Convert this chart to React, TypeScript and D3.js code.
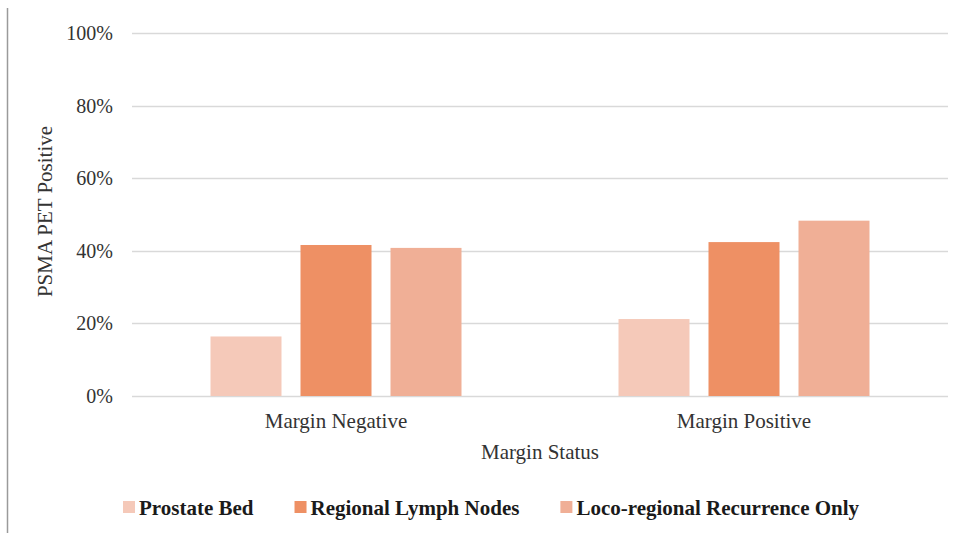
import React, { useEffect, useRef } from "react";
import * as d3 from "d3";

const categories = ["Margin Negative", "Margin Positive"];
const seriesNames = ["Prostate Bed", "Regional Lymph Nodes", "Loco-regional Recurrence Only"];
const prostateBed = [0.164, 0.212];
const regionalLymphNodes = [0.416, 0.424];
const locoRegionalOnly = [0.408, 0.483];
const seriesColors = ["#F5C9B9", "#EE9064", "#F0AF96"];
const yTicks = [0, 0.2, 0.4, 0.6, 0.8, 1.0];

const W = 957;
const H = 533;

export default function App() {
  const ref = useRef<SVGSVGElement | null>(null);

  useEffect(() => {
    const svg = d3.select(ref.current);
    svg.selectAll("*").remove();
    const font = "'Liberation Serif', 'Times New Roman', serif";
    const seriesValues = [prostateBed, regionalLymphNodes, locoRegionalOnly];

    const left = 132, right = 948, top = 33, bottom = 396;
    const y = d3.scaleLinear().domain([0, 1]).range([bottom, top]);
    const x0 = d3.scaleBand<string>().domain(categories).range([left, right]).padding(0);
    const groupPad = (x0.bandwidth() - 251) / 2;
    const x1 = d3
      .scaleBand<string>()
      .domain(seriesNames)
      .range([groupPad, x0.bandwidth() - groupPad])
      .paddingInner(19 / 90)
      .paddingOuter(0);

    // left border line
    svg.append("line").attr("x1", 7.5).attr("x2", 7.5).attr("y1", 8).attr("y2", H)
      .attr("stroke", "#9a9a9a").attr("stroke-width", 1.5);

    // gridlines
    svg.append("g").selectAll("line").data(yTicks).join("line")
      .attr("x1", left).attr("x2", right)
      .attr("y1", (d) => Math.round(y(d)) + 0.5).attr("y2", (d) => Math.round(y(d)) + 0.5)
      .attr("stroke", "#d9d9d9").attr("stroke-width", 1.3);

    // tick labels
    svg.append("g").selectAll("text").data(yTicks).join("text")
      .attr("x", 113).attr("y", (d) => y(d) + 7)
      .attr("text-anchor", "end")
      .attr("font-family", font).attr("font-size", 20).attr("fill", "#333")
      .text((d) => d3.format(".0%")(d));

    // bars
    const groups = svg.append("g").selectAll("g").data(categories).join("g")
      .attr("transform", (c) => `translate(${x0(c)},0)`);
    groups.selectAll("rect")
      .data((c, ci) => seriesNames.map((s, si) => ({ s, v: seriesValues[si][ci], color: seriesColors[si] })))
      .join("rect")
      .attr("x", (d) => x1(d.s)!)
      .attr("width", x1.bandwidth())
      .attr("y", (d) => y(d.v))
      .attr("height", (d) => y(0) - y(d.v))
      .attr("fill", (d) => d.color);

    // category labels
    svg.append("g").selectAll("text").data(categories).join("text")
      .attr("x", (c) => x0(c)! + x0.bandwidth() / 2).attr("y", 428)
      .attr("text-anchor", "middle")
      .attr("font-family", font).attr("font-size", 21).attr("fill", "#333")
      .text((c) => c);

    // axis titles
    svg.append("text").attr("x", (left + right) / 2).attr("y", 459)
      .attr("text-anchor", "middle").attr("font-family", font).attr("font-size", 21).attr("fill", "#333")
      .text("Margin Status");
    svg.append("text").attr("transform", `translate(52,${(top + bottom) / 2 - 3}) rotate(-90)`)
      .attr("text-anchor", "middle").attr("font-family", font).attr("font-size", 21).attr("fill", "#333")
      .text("PSMA PET Positive");

    // legend
    const lg = svg.append("g");
    let cx = 123;
    seriesNames.forEach((s, i) => {
      lg.append("rect").attr("x", cx).attr("y", 501).attr("width", 12).attr("height", 12).attr("fill", seriesColors[i]);
      const t = lg.append("text").attr("x", cx + 16).attr("y", 515)
        .attr("font-family", font).attr("font-size", 21).attr("font-weight", "bold").attr("fill", "#1a1a1a")
        .text(s);
      const w = (t.node() as SVGTextElement).getComputedTextLength();
      cx = cx + 16 + w + 41;
    });
  }, []);

  return (
    <svg ref={ref} width={W} height={H}
      style={{ position: "absolute", left: 0, top: 0, background: "#fff" }} />
  );
}
